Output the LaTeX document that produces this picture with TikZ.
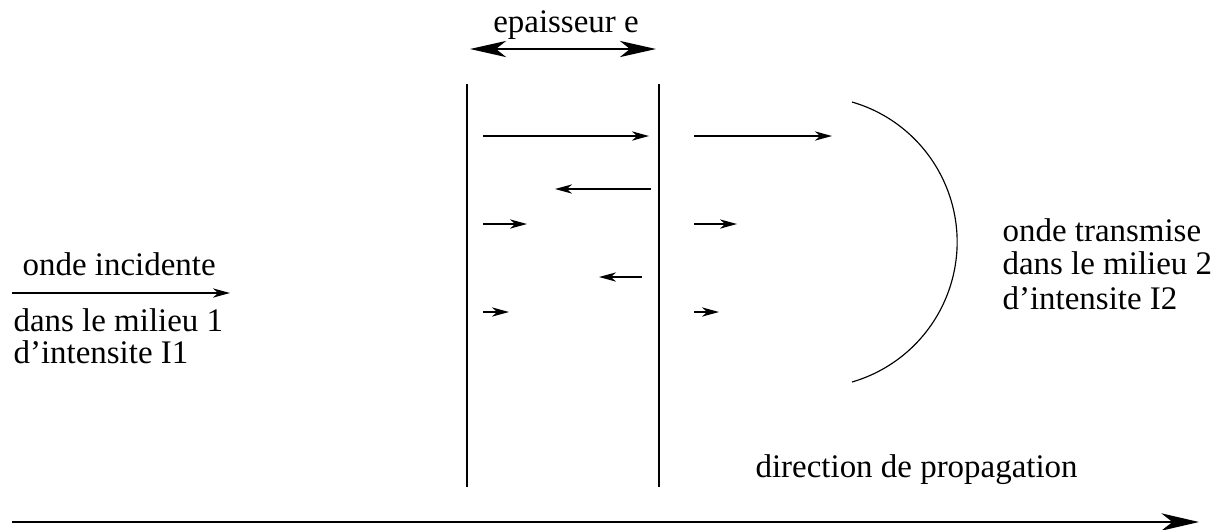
\documentclass[tikz,border=0pt]{standalone}
\usepackage{fontspec}
\setmainfont{Liberation Serif}
\usetikzlibrary{arrows.meta}
\tikzset{
  lbl/.style={inner sep=0pt, anchor=base west, font=\fontsize{11.4}{13}\selectfont},
  wall/.style={line width=0.7pt},
  ray/.style={line width=0.7pt, -{Stealth[length=5.9pt,width=3.2pt,inset=1.8pt]}},
  bigdbl/.style={line width=0.7pt, {Stealth[length=12.5pt,width=5.6pt,inset=3.5pt]}-{Stealth[length=12.5pt,width=5.6pt,inset=3.5pt]}},
  axis/.style={line width=0.8pt, -{Stealth[length=13pt,width=6pt,inset=3.8pt]}},
  front/.style={line width=0.4pt}
}
\begin{document}
\begin{tikzpicture}[x=0.346pt,y=-0.346pt]
\useasboundingbox (0,0) rectangle (1221,529);
% walls
\coordinate (w1t) at (467,84); \coordinate (w1b) at (467,487);
\coordinate (w2t) at (659,84); \coordinate (w2b) at (659,487);
\draw[wall] (w1t) -- (w1b);
\draw[wall] (w2t) -- (w2b);
% thickness
\node[lbl, anchor=base] (ep) at (566,32) {epaisseur e};
\coordinate (eL) at (470,49); \coordinate (eR) at (656,49);
\draw[bigdbl] (eL) -- (eR);
% inner rays
\coordinate (a1s) at (483,136); \coordinate (a1e) at (649,136);
\coordinate (b1s) at (694,136); \coordinate (b1e) at (832,136);
\coordinate (a2s) at (651,189); \coordinate (a2e) at (555,189);
\coordinate (a3s) at (483,224); \coordinate (a3e) at (527,224);
\coordinate (b3s) at (694,224); \coordinate (b3e) at (737,224);
\coordinate (a4s) at (642,277); \coordinate (a4e) at (599,277);
\coordinate (a5s) at (483,312); \coordinate (a5e) at (509,312);
\coordinate (b5s) at (694,312); \coordinate (b5e) at (719,312);
\draw[ray] (a1s) -- (a1e);
\draw[ray] (b1s) -- (b1e);
\draw[ray] (a2s) -- (a2e);
\draw[ray] (a3s) -- (a3e);
\draw[ray] (b3s) -- (b3e);
\draw[ray] (a4s) -- (a4e);
\draw[ray] (a5s) -- (a5e);
\draw[ray] (b5s) -- (b5e);
% wave front
\coordinate (arcS) at (852,102);
\draw[front] (arcS) arc[start angle=-73.8, end angle=73.8, radius=145.8];
% incident wave
\node[lbl] (inc) at (22,275) {onde incidente};
\coordinate (iS) at (12,293); \coordinate (iE) at (230,293);
\draw[ray] (iS) -- (iE);
\node[lbl] (m1) at (13,331) {dans le milieu 1};
\node[lbl] (i1) at (13,363) {d'intensite I1};
% transmitted
\node[lbl] (tr) at (1002,241) {onde transmise};
\node[lbl] (m2) at (1002,274) {dans le milieu 2};
\node[lbl] (i2) at (1002,309) {d'intensite I2};
% propagation
\node[lbl] (dir) at (755,477) {direction de propagation};
\coordinate (pS) at (12,522); \coordinate (pE) at (1199,522);
\draw[axis] (pS) -- (pE);
\end{tikzpicture}
\end{document}
